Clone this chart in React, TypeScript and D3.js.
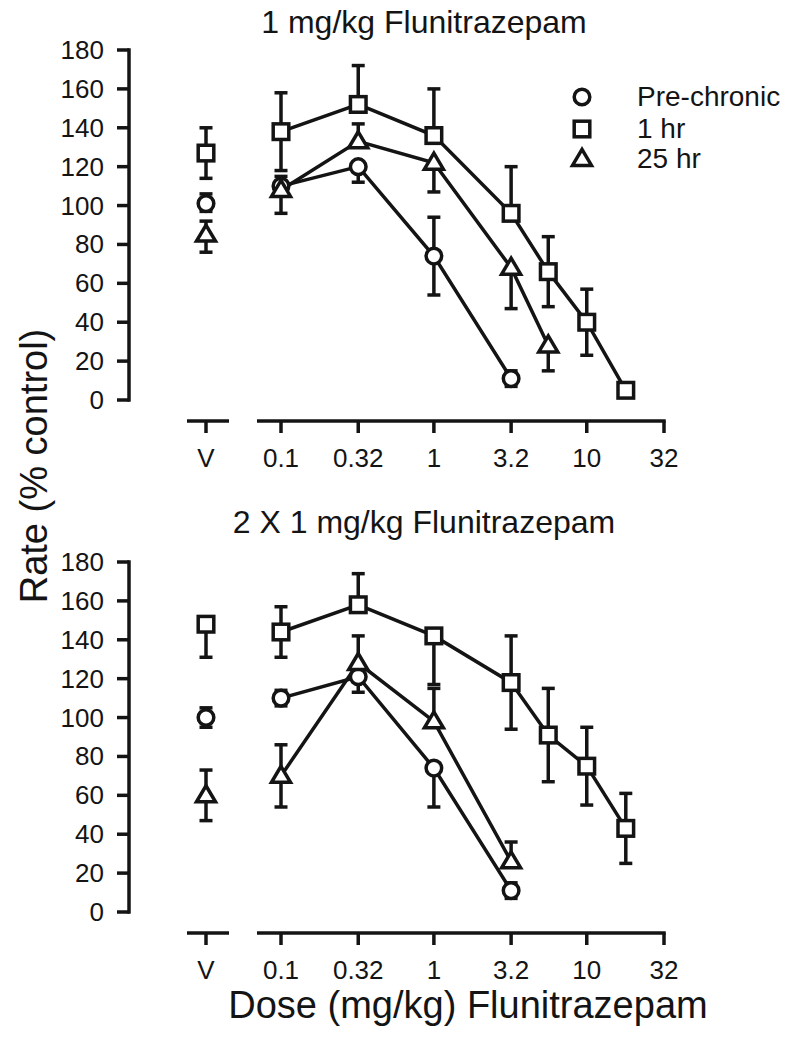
import React from "react";
import * as d3 from "d3";

// ---------- data ----------
const tickDoses = [0.1, 0.32, 1, 3.2, 10, 32];
const tickLabels = ["0.1", "0.32", "1", "3.2", "10", "32"];
const yTicks = [0, 20, 40, 60, 80, 100, 120, 140, 160, 180];
const seriesNames = ["Pre-chronic", "1 hr", "25 hr"];
const panelTitles = ["1 mg/kg Flunitrazepam", "2 X 1 mg/kg Flunitrazepam"];

// Panel 1 (1 mg/kg)
const p1CircleDoses = [0.1, 0.32, 1, 3.2];
const p1CircleVals = [110, 120, 74, 11];
const p1CircleUp = [5, 0, 20, 4];
const p1CircleDown = [0, 8, 20, 4];
const p1CircleV = [101, 5, 4];

const p1SquareDoses = [0.1, 0.32, 1, 3.2, 5.6, 10, 18];
const p1SquareVals = [138, 152, 136, 96, 66, 40, 5];
const p1SquareUp = [20, 20, 24, 24, 18, 17, 0];
const p1SquareDown = [20, 0, 0, 0, 18, 17, 0];
const p1SquareV = [127, 13, 13];

const p1TriDoses = [0.1, 0.32, 1, 3.2, 5.6];
const p1TriVals = [108, 133, 122, 68, 28];
const p1TriUp = [0, 9, 0, 0, 0];
const p1TriDown = [12, 0, 15, 21, 13];
const p1TriV = [85, 7, 9];

// Panel 2 (2 X 1 mg/kg)
const p2CircleDoses = [0.1, 0.32, 1, 3.2];
const p2CircleVals = [110, 121, 74, 11];
const p2CircleUp = [4, 0, 0, 4];
const p2CircleDown = [4, 8, 20, 4];
const p2CircleV = [100, 5, 5];

const p2SquareDoses = [0.1, 0.32, 1, 3.2, 5.6, 10, 18];
const p2SquareVals = [144, 158, 142, 118, 91, 75, 43];
const p2SquareUp = [13, 16, 0, 24, 24, 20, 18];
const p2SquareDown = [13, 0, 25, 24, 24, 20, 18];
const p2SquareV = [148, 0, 17];

const p2TriDoses = [0.1, 0.32, 1, 3.2];
const p2TriVals = [70, 128, 98, 26];
const p2TriUp = [16, 14, 17, 10];
const p2TriDown = [16, 0, 0, 0];
const p2TriV = [60, 13, 13];

type Series = {
  shape: "circle" | "square" | "triangle";
  doses: number[];
  vals: number[];
  up: number[];
  down: number[];
  v: number[];
};

const panels: Series[][] = [
  [
    { shape: "circle", doses: p1CircleDoses, vals: p1CircleVals, up: p1CircleUp, down: p1CircleDown, v: p1CircleV },
    { shape: "square", doses: p1SquareDoses, vals: p1SquareVals, up: p1SquareUp, down: p1SquareDown, v: p1SquareV },
    { shape: "triangle", doses: p1TriDoses, vals: p1TriVals, up: p1TriUp, down: p1TriDown, v: p1TriV },
  ],
  [
    { shape: "circle", doses: p2CircleDoses, vals: p2CircleVals, up: p2CircleUp, down: p2CircleDown, v: p2CircleV },
    { shape: "square", doses: p2SquareDoses, vals: p2SquareVals, up: p2SquareUp, down: p2SquareDown, v: p2SquareV },
    { shape: "triangle", doses: p2TriDoses, vals: p2TriVals, up: p2TriUp, down: p2TriDown, v: p2TriV },
  ],
];

// ---------- layout ----------
const W = 800;
const H = 1044;
const FONT = "'Liberation Sans', Arial, Helvetica, sans-serif";
const INK = "#141414";
const SW = 3.5;

const x = d3.scaleLog().domain([0.1, 32]).range([281, 664]);
const xV = 206;
const vSeg = [187, 229];
const mainSeg = [257, 664];
const yAxisX = 129;
const panelTop = [50, 562];
const titleBase = [33, 533];
const panelH = 350;
const axisGap = 21;

function Marker({ shape, cx, cy }: { shape: string; cx: number; cy: number }) {
  if (shape === "circle")
    return <circle cx={cx} cy={cy} r={7.8} fill="#fff" stroke={INK} strokeWidth={SW} />;
  if (shape === "square")
    return <rect x={cx - 7.8} y={cy - 7.8} width={15.6} height={15.6} fill="#fff" stroke={INK} strokeWidth={SW} />;
  const w = 19, h = 16;
  const p = `M${cx},${cy - h * 0.6} L${cx + w / 2},${cy + h * 0.4} L${cx - w / 2},${cy + h * 0.4} Z`;
  return <path d={p} fill="#fff" stroke={INK} strokeWidth={SW} strokeLinejoin="miter" />;
}

function ErrBar({ cx, cy, yUp, yDown }: { cx: number; cy: number; yUp: number | null; yDown: number | null }) {
  const cap = 6.5;
  return (
    <g stroke={INK} strokeWidth={SW}>
      {yUp !== null && (
        <>
          <line x1={cx} x2={cx} y1={yUp} y2={cy} />
          <line x1={cx - cap} x2={cx + cap} y1={yUp} y2={yUp} />
        </>
      )}
      {yDown !== null && (
        <>
          <line x1={cx} x2={cx} y1={cy} y2={yDown} />
          <line x1={cx - cap} x2={cx + cap} y1={yDown} y2={yDown} />
        </>
      )}
    </g>
  );
}

function Panel({ idx }: { idx: number }) {
  const top = panelTop[idx];
  const y = d3.scaleLinear().domain([0, 180]).range([top + panelH, top]);
  const axisY = top + panelH + axisGap;
  const data = panels[idx];
  const line = d3
    .line<[number, number]>()
    .x((d) => x(d[0]))
    .y((d) => y(d[1]));

  const bars: JSX.Element[] = [];
  const marks: JSX.Element[] = [];
  data.forEach((s, si) => {
    const [vv, vu, vd] = s.v;
    bars.push(
      <ErrBar key={`v${si}`} cx={xV} cy={y(vv)} yUp={vu > 0 ? y(vv + vu) : null} yDown={vd > 0 ? y(vv - vd) : null} />
    );
    marks.push(<Marker key={`vm${si}`} shape={s.shape} cx={xV} cy={y(vv)} />);
    s.doses.forEach((d, i) => {
      const val = s.vals[i];
      bars.push(
        <ErrBar
          key={`e${si}-${i}`}
          cx={x(d)}
          cy={y(val)}
          yUp={s.up[i] > 0 ? y(val + s.up[i]) : null}
          yDown={s.down[i] > 0 ? y(val - s.down[i]) : null}
        />
      );
      marks.push(<Marker key={`m${si}-${i}`} shape={s.shape} cx={x(d)} cy={y(val)} />);
    });
  });

  return (
    <g>
      <text x={424} y={titleBase[idx]} textAnchor="middle" fontSize={32} fontFamily={FONT} fill={INK}>
        {panelTitles[idx]}
      </text>
      {/* y axis */}
      <line x1={yAxisX} x2={yAxisX} y1={y(0) + SW / 2} y2={y(180) - SW / 2} stroke={INK} strokeWidth={SW} />
      {yTicks.map((t) => (
        <g key={t}>
          <line x1={yAxisX - 12} x2={yAxisX} y1={y(t)} y2={y(t)} stroke={INK} strokeWidth={SW} />
          <text x={104} y={y(t) + 9} textAnchor="end" fontSize={26} fontFamily={FONT} fill={INK}>
            {t}
          </text>
        </g>
      ))}
      {/* x axis */}
      <line x1={vSeg[0]} x2={vSeg[1]} y1={axisY} y2={axisY} stroke={INK} strokeWidth={SW} />
      <line x1={xV} x2={xV} y1={axisY} y2={axisY + 12} stroke={INK} strokeWidth={SW} />
      <text x={xV} y={axisY + 46} textAnchor="middle" fontSize={26} fontFamily={FONT} fill={INK}>
        V
      </text>
      <line x1={mainSeg[0]} x2={mainSeg[1] + SW / 2} y1={axisY} y2={axisY} stroke={INK} strokeWidth={SW} />
      {tickDoses.map((t, i) => (
        <g key={t}>
          <line x1={x(t)} x2={x(t)} y1={axisY} y2={axisY + 12} stroke={INK} strokeWidth={SW} />
          <text x={x(t)} y={axisY + 46} textAnchor="middle" fontSize={26} fontFamily={FONT} fill={INK}>
            {tickLabels[i]}
          </text>
        </g>
      ))}
      {/* lines */}
      {data.map((s, si) => (
        <path
          key={`l${si}`}
          d={line(s.doses.map((d, i) => [d, s.vals[i]] as [number, number])) || ""}
          fill="none"
          stroke={INK}
          strokeWidth={SW}
        />
      ))}
      {bars}
      {marks}
    </g>
  );
}

export default function App() {
  const legendY = [97, 129, 159];
  const shapes = ["circle", "square", "triangle"];
  return (
    <svg width={W} height={H} style={{ position: "absolute", left: 0, top: 0, background: "#fff" }}>
      <rect width={W} height={H} fill="#fff" />
      <Panel idx={0} />
      <Panel idx={1} />
      {seriesNames.map((n, i) => (
        <g key={n}>
          <Marker shape={shapes[i]} cx={582} cy={legendY[i]} />
          <text x={637} y={legendY[i] + 9} fontSize={28} fontFamily={FONT} fill={INK}>
            {n}
          </text>
        </g>
      ))}
      <text
        transform={`translate(47,466) rotate(-90)`}
        textAnchor="middle"
        fontSize={38}
        fontFamily={FONT}
        fill={INK}
      >
        Rate (% control)
      </text>
      <text x={468} y={1018} textAnchor="middle" fontSize={38} fontFamily={FONT} fill={INK}>
        Dose (mg/kg) Flunitrazepam
      </text>
    </svg>
  );
}
